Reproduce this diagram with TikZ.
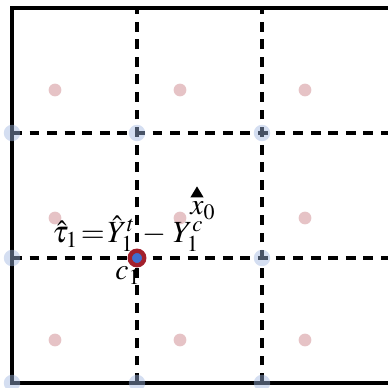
\documentclass[tikz,border=0pt]{standalone}
\usepackage{amsmath}
\usepackage{mathptmx}
\usetikzlibrary{shapes.geometric,positioning}
\definecolor{CR}{HTML}{A3202C}
\definecolor{CB}{HTML}{3F6FD0}
\definecolor{CP}{HTML}{E6C3C6}
\definecolor{CL}{HTML}{9FB6E0}
\newcommand{\tightmath}{\thickmuskip=1.5mu\relax\medmuskip=4mu\relax}
\begin{document}
\begin{tikzpicture}[x=2cm,y=2cm,
    gridline/.style={line width=1.4pt, dash pattern=on 4.5pt off 3.5pt},
    cellpt/.style={circle, fill=CP, inner sep=0pt, minimum size=5.8pt},
    vertpt/.style={circle, fill=CL, fill opacity=0.45, inner sep=0pt, minimum size=7.5pt},
    center/.style={circle, draw=CR, line width=2pt, fill=CB, inner sep=0pt, minimum size=6.6pt},
    lab/.style={font=\fontsize{13.5}{15}\selectfont\tightmath,
                inner sep=0pt, anchor=base west},
    biglab/.style={lab, font=\fontsize{14}{16}\selectfont\tightmath}]
  \useasboundingbox (-0.096,-0.04) rectangle (3.0,3.064);
  % frame
  \draw[line width=1.8pt] (3.2,0) -- (0,0) -- (0,3) -- (3.2,3);
  % cells
  \foreach \i in {1,2} {
    \draw[gridline] (\i,0) -- (\i,3);
    \draw[gridline] (0,\i) -- (3.1,\i);
  }
  \foreach \cx/\cy [count=\k] in {0.344/2.344,1.344/2.344,2.344/2.344,
                                  0.344/1.32,1.344/1.32,2.344/1.32,
                                  0.344/0.344,1.344/0.344,2.344/0.344}
    \node[cellpt] (p\k) at (\cx,\cy) {};
  % vertices
  \foreach \vx/\vy [count=\k] in {0/2,1/2,2/2,0/1,2/1,0/0,1/0,2/0}
    \node[vertpt] (v\k) at (\vx,\vy) {};
  \node[center] (c1) at (1,1) {};
  \node[lab] (c1lab) at (0.824,0.824) {$c_1$};
  \node[biglab] (tau) at (0.32,1.125) {$\hat{\tau}_1 = \hat{Y}^t_1 - Y^c_1$};
  % query point
  \node[isosceles triangle, isosceles triangle stretches, shape border rotate=90,
        fill=black, inner sep=0pt, minimum width=6pt, minimum height=5pt] (x0) at (1.48,1.515) {};
  \node[lab] (x0lab) at (1.424,1.345) {$x_0$};
\end{tikzpicture}
\end{document}
